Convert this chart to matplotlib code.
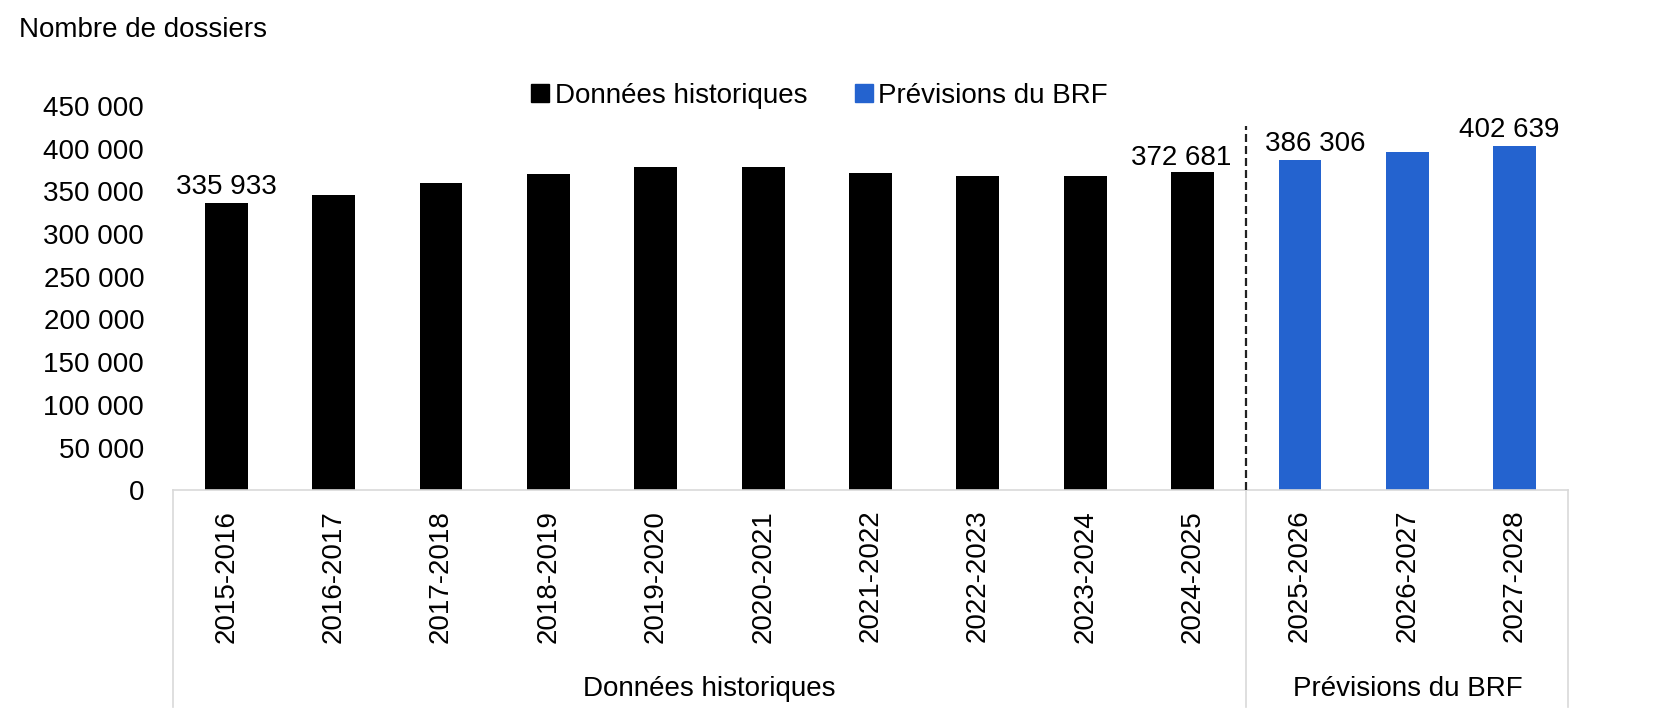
import matplotlib
matplotlib.use("Agg")
import matplotlib.pyplot as plt
from matplotlib.lines import Line2D
from matplotlib.ticker import FuncFormatter

plt.rcParams['font.family'] = ['Liberation Sans', 'DejaVu Sans']

# ---- data ----
categories = ["2015-2016", "2016-2017", "2017-2018", "2018-2019", "2019-2020",
              "2020-2021", "2021-2022", "2022-2023", "2023-2024", "2024-2025",
              "2025-2026", "2026-2027", "2027-2028"]
historical = [335933, 345600, 359300, 370500, 378400, 378000, 371400, 367800,
              367800, 372681]
forecast = [386306, 395600, 402639]
labelled = {0: "335 933", 9: "372 681", 10: "386 306", 12: "402 639"}
group_names = ["Données historiques", "Prévisions du BRF"]
y_ticks = [0, 50000, 100000, 150000, 200000, 250000, 300000, 350000, 400000, 450000]
y_title = "Nombre de dossiers"

BLACK = "#000000"
BLUE = "#2463CF"
GRID = "#d9d9d9"
FS = 20

fig = plt.figure(figsize=(16.8, 7.24), dpi=100)
ax = fig.add_axes([0.10274, 0.32265, 0.83083, 0.53122])

n_hist = len(historical)
x_hist = list(range(n_hist))
x_fc = list(range(n_hist, n_hist + len(forecast)))
ax.bar(x_hist, historical, width=0.4, color=BLACK, zorder=2)
ax.bar(x_fc, forecast, width=0.4, color=BLUE, zorder=2)

ax.set_xlim(-0.5, len(categories) - 0.5)
ax.set_ylim(0, 450000)

ax.set_yticks(y_ticks)
ax.yaxis.set_major_formatter(FuncFormatter(lambda v, p: f"{int(v):,}".replace(",", " ")))
ax.tick_params(axis='y', length=0, pad=20.5, labelsize=FS)
ax.set_xticks(range(len(categories)))
ax.set_xticklabels(categories, rotation=90, fontsize=FS, va='top', ha='center')
ax.tick_params(axis='x', length=0, pad=14)

for s in ['top', 'right', 'left']:
    ax.spines[s].set_visible(False)
ax.spines['bottom'].set_color(GRID)
ax.spines['bottom'].set_linewidth(1.2)

# value labels
all_vals = historical + forecast
offsets = {0: (0, 2.5), 9: (-8, 0.5), 10: (11, 2.5), 12: (-4, 2.5)}
for i, txt in labelled.items():
    ax.annotate(txt, (i, all_vals[i]), xytext=offsets[i],
                textcoords='offset points', ha='center', va='bottom', fontsize=FS)

# dashed separator
ax.axvline(n_hist - 0.5, ymin=0, ymax=0.9475, color="#222222", lw=1.6,
           ls=(0, (3.6, 1.8)), zorder=3)

# multi-level category separators
xt = ax.get_xaxis_transform()
for xs in [-0.5, n_hist - 0.5, len(categories) - 0.5]:
    ax.add_line(Line2D([xs, xs], [0, -0.563], transform=xt, color=GRID, lw=1.2,
                       clip_on=False))
ax.text((n_hist - 1) / 2, -0.516, group_names[0], transform=xt, ha='center',
        va='center', fontsize=FS)
ax.text(n_hist + (len(forecast) - 1) / 2, -0.516, group_names[1], transform=xt,
        ha='center', va='center', fontsize=FS)

# legend
handles = [Line2D([], [], marker='s', ls='none', color=BLACK, markersize=12.5),
           Line2D([], [], marker='s', ls='none', color=BLUE, markersize=12.5)]
fig.legend(handles, group_names, loc='center', bbox_to_anchor=(819.5 / 1680, 1 - 95.7 / 724),
           ncol=2, frameon=False, fontsize=FS, handlelength=0.65, handletextpad=0.2,
           columnspacing=1.7, borderpad=0, borderaxespad=0)

fig.text(19 / 1680, 1 - 30 / 724, y_title, fontsize=FS, ha='left', va='center')

fig.savefig("out.png", dpi=100)
